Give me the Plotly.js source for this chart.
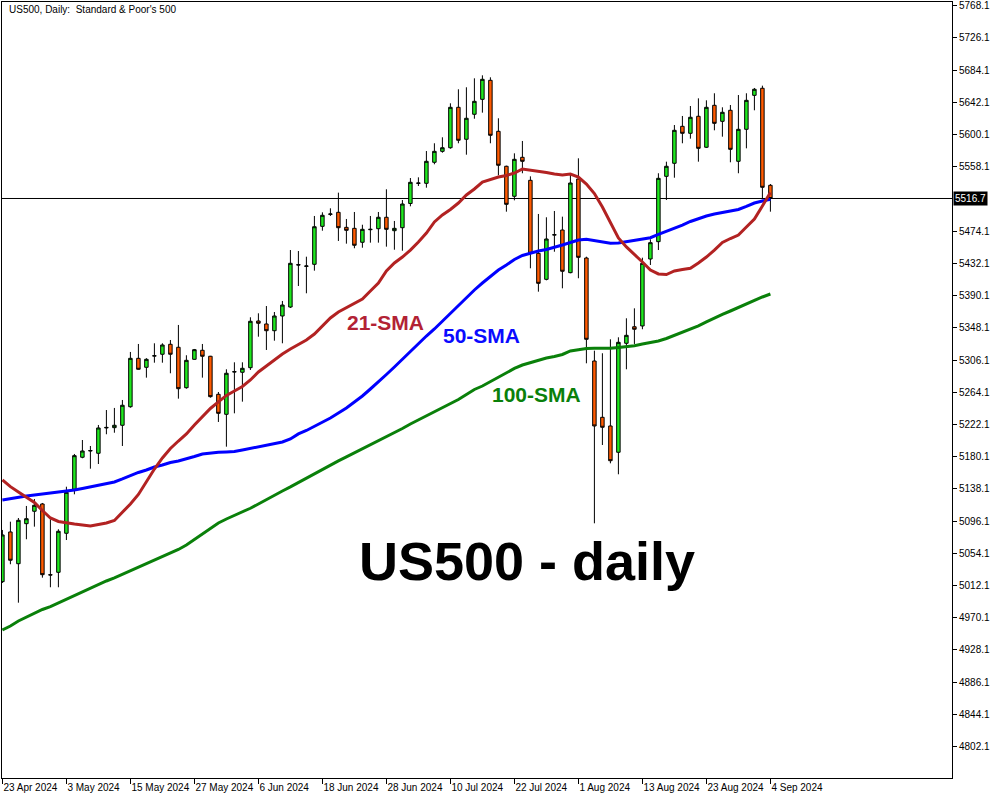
<!DOCTYPE html>
<html><head><meta charset="utf-8">
<script src="https://cdn.plot.ly/plotly-3.0.1.min.js"></script>
<style>html,body{margin:0;padding:0;background:#fff;}#chart{width:1000px;height:800px;}</style>
</head><body><div id="chart"></div>
<script>
// ---- Data ----
const openP = [5017.1, 5081.9, 5040.5, 5092.7, 5108.9, 5118.4, 5026.2, 5029.3, 5080.2, 5137.6,
5179.3, 5187.5, 5184.5, 5217.5, 5217.9, 5221.0, 5245.2, 5308.3, 5296.6, 5311.2,
5313.6, 5326.6, 5322.7, 5270.0, 5307.0, 5318.8, 5311.0, 5261.4, 5235.3, 5290.4,
5290.1, 5296.1, 5357.0, 5353.1, 5344.3, 5363.5, 5375.2, 5430.5, 5428.2, 5430.9,
5480.4, 5496.0, 5498.7, 5479.1, 5477.8, 5459.6, 5476.0, 5477.3, 5492.2, 5474.7,
5478.6, 5510.2, 5537.0, 5536.5, 5563.9, 5578.2, 5582.9, 5635.6, 5593.9, 5626.5,
5646.0, 5670.8, 5604.3, 5558.7, 5519.6, 5570.4, 5540.4, 5445.2, 5411.3, 5469.0,
5475.6, 5420.0, 5542.1, 5439.1, 5304.8, 5231.4, 5220.1, 5185.8, 5327.9, 5349.5,
5350.5, 5437.8, 5460.4, 5545.6, 5562.6, 5610.8, 5601.7, 5623.9, 5583.5, 5638.2,
5617.3, 5631.7, 5565.2, 5606.9, 5651.2, 5660.4, 5533.9];
const highP = [5084.5, 5095.3, 5100.1, 5115.8, 5124.9, 5119.7, 5098.4, 5085.4, 5140.9, 5183.6,
5201.8, 5194.0, 5221.4, 5240.9, 5243.6, 5254.0, 5316.6, 5327.0, 5308.5, 5327.9,
5327.9, 5332.2, 5351.8, 5312.3, 5320.5, 5327.0, 5311.5, 5264.4, 5294.0, 5303.1,
5303.1, 5361.8, 5367.0, 5376.5, 5368.7, 5383.1, 5449.5, 5448.2, 5440.8, 5493.9,
5498.7, 5503.9, 5524.3, 5490.0, 5499.1, 5482.5, 5493.9, 5499.1, 5528.7, 5487.4,
5514.7, 5543.4, 5544.3, 5578.6, 5588.7, 5596.5, 5640.8, 5659.1, 5661.7, 5673.4,
5677.3, 5674.7, 5621.3, 5559.5, 5575.6, 5591.7, 5545.6, 5496.5, 5492.2, 5500.4,
5493.0, 5549.6, 5569.1, 5440.8, 5318.3, 5314.9, 5333.1, 5335.7, 5360.5, 5373.5,
5439.5, 5463.5, 5549.6, 5564.7, 5612.5, 5624.3, 5637.3, 5647.3, 5644.7, 5653.9,
5635.6, 5638.6, 5651.6, 5653.9, 5660.8, 5663.8, 5535.6];
const lowP = [5015.4, 5039.8, 4989.7, 5072.4, 5088.8, 5022.3, 5009.8, 5009.8, 5071.4, 5131.0,
5178.0, 5164.4, 5170.5, 5209.3, 5211.3, 5194.0, 5243.9, 5293.5, 5283.1, 5302.6,
5302.6, 5288.8, 5255.7, 5268.7, 5306.5, 5283.1, 5257.0, 5225.3, 5193.1, 5236.6,
5251.8, 5293.1, 5336.5, 5319.2, 5331.3, 5327.9, 5373.9, 5402.6, 5393.1, 5422.6,
5474.7, 5493.9, 5461.3, 5457.8, 5451.8, 5452.5, 5459.1, 5459.1, 5453.9, 5449.9,
5448.6, 5506.5, 5533.0, 5530.8, 5561.3, 5576.4, 5581.6, 5588.7, 5573.8, 5620.7,
5628.6, 5588.7, 5546.9, 5499.5, 5514.3, 5549.6, 5425.7, 5395.2, 5410.0, 5447.3,
5399.6, 5419.2, 5412.7, 5301.8, 5093.2, 5195.3, 5171.4, 5157.1, 5294.0, 5327.0,
5346.2, 5430.0, 5449.5, 5514.7, 5543.8, 5588.7, 5594.7, 5564.7, 5582.5, 5605.6,
5597.3, 5563.9, 5549.6, 5582.1, 5631.7, 5515.7, 5499.5];
const closeP = [5078.0, 5045.0, 5097.1, 5099.2, 5116.7, 5026.2, 5025.8, 5082.8, 5133.6, 5181.4,
5187.5, 5188.0, 5217.5, 5218.2, 5221.0, 5247.1, 5308.3, 5294.0, 5307.0, 5311.7,
5325.7, 5313.6, 5268.7, 5305.7, 5319.6, 5311.0, 5258.3, 5236.6, 5288.8, 5290.9,
5295.3, 5356.6, 5354.0, 5344.3, 5363.5, 5377.8, 5432.2, 5430.0, 5428.7, 5479.9,
5494.8, 5496.5, 5478.6, 5475.2, 5455.7, 5476.5, 5476.5, 5492.2, 5476.5, 5477.8,
5509.5, 5537.8, 5536.5, 5565.2, 5578.2, 5582.9, 5635.6, 5592.6, 5621.3, 5643.4,
5672.1, 5599.1, 5560.0, 5509.1, 5567.8, 5565.2, 5445.2, 5406.1, 5463.9, 5469.5,
5421.8, 5536.9, 5440.0, 5333.1, 5220.1, 5218.4, 5174.8, 5329.2, 5338.3, 5346.2,
5432.2, 5459.1, 5543.0, 5558.7, 5605.6, 5601.7, 5622.6, 5582.1, 5635.6, 5614.7,
5629.1, 5580.8, 5606.9, 5644.7, 5659.1, 5531.3, 5516.7];
const sma21 = [5149.7, 5141.0, 5134.0, 5127.5, 5120.3, 5109.9, 5100.1, 5095.6, 5093.6, 5092.3,
5091.0, 5089.7, 5091.7, 5093.6, 5096.9, 5107.3, 5118.4, 5130.8, 5147.1, 5164.0,
5178.4, 5190.7, 5200.5, 5209.7, 5221.4, 5232.5, 5242.9, 5251.4, 5259.9, 5265.7,
5271.6, 5280.1, 5290.5, 5298.3, 5306.1, 5314.0, 5320.5, 5326.3, 5332.2, 5340.0,
5350.5, 5360.9, 5368.7, 5374.6, 5380.4, 5385.7, 5396.1, 5406.5, 5422.2, 5432.6,
5440.4, 5449.5, 5460.0, 5471.7, 5486.1, 5495.2, 5502.4, 5510.8, 5521.3, 5529.1,
5538.2, 5541.5, 5544.7, 5546.7, 5549.9, 5555.2, 5553.9, 5551.9, 5550.6, 5548.6,
5547.3, 5548.6, 5544.7, 5535.6, 5523.2, 5505.6, 5484.8, 5465.2, 5453.5, 5444.3,
5433.9, 5423.5, 5418.3, 5417.6, 5422.2, 5424.1, 5425.7, 5432.6, 5440.4, 5449.5,
5459.3, 5464.5, 5469.1, 5479.5, 5490.0, 5506.9, 5524.5];
const sma50 = [5123.6, 5125.6, 5127.5, 5128.8, 5130.1, 5131.4, 5132.3, 5133.4, 5134.4, 5136.6,
5138.6, 5140.6, 5142.5, 5145.1, 5147.1, 5151.0, 5155.5, 5159.5, 5162.7, 5166.6,
5169.2, 5172.5, 5174.5, 5177.1, 5180.3, 5183.6, 5185.1, 5185.8, 5186.2, 5186.8,
5188.8, 5191.0, 5192.7, 5194.7, 5197.3, 5199.2, 5203.1, 5209.7, 5214.2, 5219.4,
5224.6, 5230.5, 5237.0, 5243.6, 5251.4, 5259.2, 5268.3, 5277.4, 5287.2, 5297.0,
5307.4, 5317.9, 5328.3, 5337.4, 5346.6, 5357.0, 5367.4, 5377.8, 5387.0, 5397.4,
5406.5, 5415.0, 5423.5, 5430.0, 5437.2, 5442.4, 5445.6, 5448.2, 5450.2, 5452.8,
5456.1, 5459.3, 5462.6, 5463.5, 5461.9, 5460.0, 5458.3, 5458.7, 5460.6, 5461.9,
5463.9, 5465.6, 5469.8, 5473.7, 5478.2, 5482.1, 5486.7, 5490.6, 5493.9, 5496.5,
5498.4, 5500.4, 5502.4, 5506.3, 5510.8, 5513.4, 5515.7];
const sma100 = [4954.1, 4959.3, 4965.8, 4971.1, 4976.3, 4980.8, 4984.5, 4989.3, 4993.9, 4999.1,
5003.7, 5008.2, 5012.8, 5018.0, 5021.9, 5026.5, 5031.0, 5035.6, 5040.8, 5045.4,
5049.9, 5054.5, 5059.1, 5064.9, 5072.1, 5079.9, 5087.1, 5093.6, 5098.8, 5103.4,
5108.0, 5112.8, 5118.4, 5124.3, 5130.1, 5135.3, 5140.6, 5146.4, 5152.3, 5158.2,
5163.4, 5169.2, 5174.5, 5179.7, 5184.9, 5190.1, 5195.3, 5200.5, 5205.7, 5211.0,
5216.8, 5222.7, 5227.9, 5233.1, 5238.3, 5243.6, 5248.8, 5254.6, 5261.1, 5267.7,
5272.2, 5278.1, 5284.0, 5289.8, 5295.1, 5299.6, 5302.9, 5306.1, 5308.7, 5310.7,
5313.3, 5317.9, 5319.8, 5321.1, 5321.4, 5321.4, 5321.4, 5322.4, 5323.7, 5324.7,
5327.0, 5329.0, 5330.9, 5334.2, 5338.1, 5342.0, 5345.9, 5350.5, 5355.7, 5360.9,
5365.5, 5370.0, 5374.6, 5379.8, 5384.4, 5388.3, 5392.2];
const dateTickLabels = ['23 Apr 2024', '3 May 2024', '15 May 2024', '27 May 2024', '6 Jun 2024',
  '18 Jun 2024', '28 Jun 2024', '10 Jul 2024', '22 Jul 2024', '1 Aug 2024', '13 Aug 2024',
  '23 Aug 2024', '4 Sep 2024'];
const priceTicks = [4802.1, 4844.1, 4886.1, 4928.1, 4970.1, 5012.1, 5054.1, 5096.1, 5138.1,
  5180.1, 5222.1, 5264.1, 5306.1, 5348.1, 5390.1, 5432.1, 5474.1, 5516.1, 5558.1, 5600.1,
  5642.1, 5684.1, 5726.1, 5768.1];
const lastPrice = 5516.7;
const chartTitle = 'US500, Daily:\u00a0 Standard & Poor\'s 500';
const bigLabel = 'US500 - daily';

// ---- trading days (weekdays) starting 23 Apr 2024 ----
const months = ['Jan','Feb','Mar','Apr','May','Jun','Jul','Aug','Sep','Oct','Nov','Dec'];
const dates = [];
const d = new Date(Date.UTC(2024, 3, 23));
while (dates.length < openP.length) {
  const wd = d.getUTCDay();
  if (wd !== 0 && wd !== 6) dates.push(d.getUTCDate() + ' ' + months[d.getUTCMonth()] + ' ' + d.getUTCFullYear());
  d.setUTCDate(d.getUTCDate() + 1);
}
// hide the 5516.1 tick label (covered by current price box in the reference)
const shownTicks = priceTicks.filter(v => Math.abs(v - lastPrice) > 5);

const traces = [
  {type: 'candlestick', x: dates, open: openP, high: highP, low: lowP, close: closeP,
   increasing: {line: {color: '#000000', width: 1}, fillcolor: '#1ee81e'},
   decreasing: {line: {color: '#000000', width: 1}, fillcolor: '#ff5a00'},
   whiskerwidth: 0, hoverinfo: 'skip', name: 'US500'},
  {type: 'scatter', mode: 'lines', x: dates, y: sma100, line: {color: '#0a800a', width: 3}, name: '100-SMA', hoverinfo: 'skip'},
  {type: 'scatter', mode: 'lines', x: dates, y: sma50, line: {color: '#0000ff', width: 3}, name: '50-SMA', hoverinfo: 'skip'},
  {type: 'scatter', mode: 'lines', x: dates, y: sma21, line: {color: '#b22222', width: 3}, name: '21-SMA', hoverinfo: 'skip'}
];

const axFont = {family: 'Liberation Sans, Arial, sans-serif', size: 10, color: '#000'};
const layout = {
  width: 1000, height: 800,
  margin: {l: 2, r: 48, t: 2, b: 22, pad: 0},
  paper_bgcolor: '#ffffff', plot_bgcolor: '#ffffff',
  showlegend: false,
  boxgap: 0.38,
  xaxis: {type: 'category', range: [-0.05, 118.7], tickvals: dateTickLabels, ticktext: dateTickLabels,
    ticks: 'outside', ticklen: 5, tickcolor: '#000', tickwidth: 1,
    ticklabelposition: 'outside right', tickangle: 0,
    showline: true, mirror: true, linecolor: '#000', linewidth: 1,
    showgrid: false, zeroline: false, rangeslider: {visible: false}, tickfont: axFont, fixedrange: true},
  yaxis: {side: 'right', range: [4761.1, 5772.9], tickvals: shownTicks, ticktext: shownTicks.map(v => v.toFixed(1)),
    ticks: 'outside', ticklen: 4, tickcolor: '#000', tickwidth: 1,
    showline: true, mirror: true, linecolor: '#000', linewidth: 1,
    showgrid: false, zeroline: false, tickfont: axFont, fixedrange: true},
  shapes: [
    {type: 'line', xref: 'paper', x0: 0, x1: 1, yref: 'y', y0: lastPrice, y1: lastPrice,
     line: {color: '#000', width: 1}, layer: 'below'}
  ],
  annotations: [
    {xref: 'paper', yref: 'paper', x: 0.0053, y: 0.9897, xanchor: 'left', yanchor: 'middle',
     text: chartTitle, showarrow: false, font: {family: 'Liberation Sans, Arial, sans-serif', size: 10, color: '#000'}},
    {xref: 'paper', yref: 'y', x: 1, y: lastPrice, xanchor: 'left', yanchor: 'middle', xshift: 1,
     text: lastPrice.toFixed(1), showarrow: false, bgcolor: '#000', borderpad: 1,
     font: {family: 'Liberation Sans, Arial, sans-serif', size: 10, color: '#fff'}},
    {xref: 'paper', yref: 'paper', x: 0.4042, y: 0.5876, xanchor: 'center', yanchor: 'middle',
     text: '<b>21-SMA</b>', showarrow: false, font: {family: 'Liberation Sans, Arial, sans-serif', size: 21, color: '#b22234'}},
    {xref: 'paper', yref: 'paper', x: 0.5047, y: 0.5696, xanchor: 'center', yanchor: 'middle',
     text: '<b>50-SMA</b>', showarrow: false, font: {family: 'Liberation Sans, Arial, sans-serif', size: 21, color: '#0a0aff'}},
    {xref: 'paper', yref: 'paper', x: 0.5626, y: 0.4948, xanchor: 'center', yanchor: 'middle',
     text: '<b>100-SMA</b>', showarrow: false, font: {family: 'Liberation Sans, Arial, sans-serif', size: 21, color: '#0a800a'}},
    {xref: 'paper', yref: 'paper', x: 0.5526, y: 0.2796, xanchor: 'center', yanchor: 'middle',
     text: '<b>' + bigLabel + '</b>', showarrow: false, font: {family: 'Liberation Sans, Arial, sans-serif', size: 54, color: '#000'}}
  ]
};

Plotly.newPlot('chart', traces, layout, {displayModeBar: false, staticPlot: true});
</script>
</body></html>
